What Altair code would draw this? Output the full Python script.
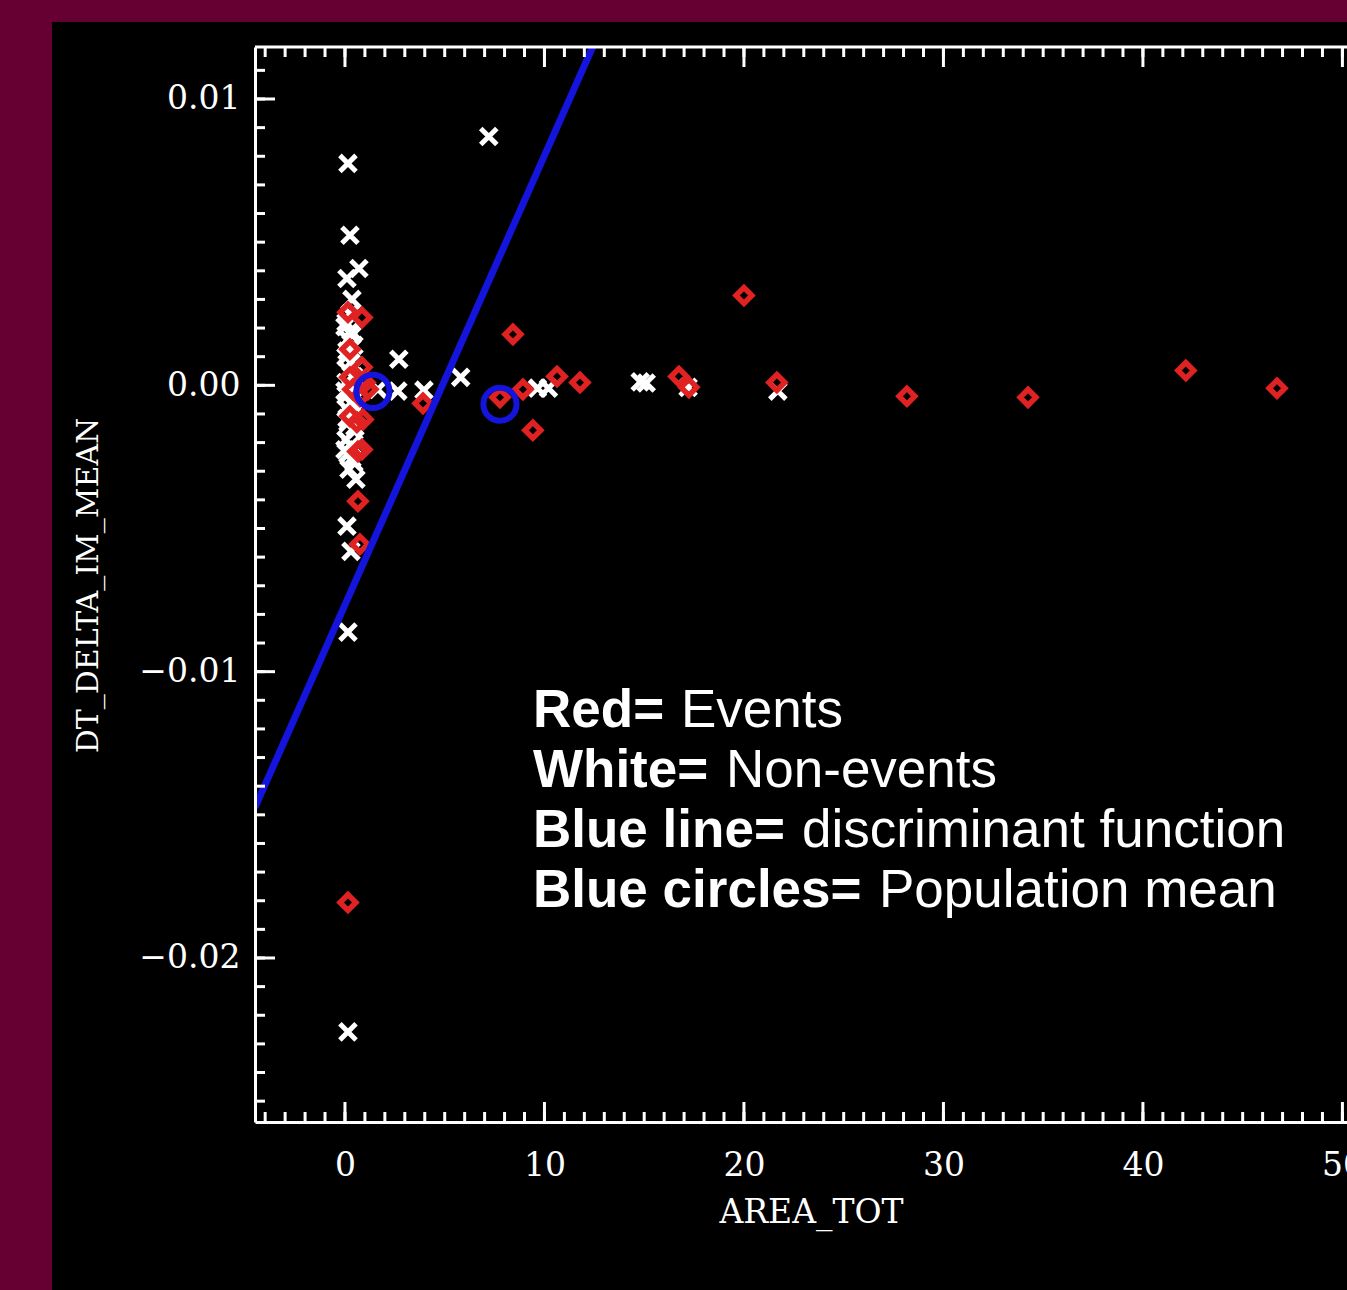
import altair as alt
import pandas as pd

# ---------------- data (x = AREA_TOT, y = DT_DELTA_IM_MEAN in units of 0.001) -------------
white_x = [7.21, 0.15, 0.25, 0.70, 0.10, 0.35, 2.70, 2.65, 3.96, 5.80, 9.65, 10.20,
           14.80, 15.10, 17.20, 21.70, 0.15, 0.15, 0.10, 0.30, 0.20, 0.55, 1.65,
           0.05, 0.30, 0.15, 0.45, 0.05, 0.30, 0.15, 0.45, 0.05, 0.30, 0.15, 0.45,
           0.05, 0.30, 0.15, 0.45, 0.05, 0.30, 0.15, 0.45, 0.25,
           0.00, 0.35, 0.10, 0.50, 0.00, 0.35, 0.10, 0.50, 0.00, 0.35]
white_y = [8.69, 7.75, 5.24, 4.08, 3.73, 3.00, 0.91, -0.20, -0.17, 0.28, -0.10, -0.10,
           0.12, 0.08, -0.07, -0.20, -8.62, -22.58, -4.92, -5.80, -2.93, -3.28, -0.14,
           2.20, 1.90, 1.60, 1.40, 1.00, 0.80, 0.50, 0.30, 0.10, -0.10, -0.30, -0.50,
           -0.80, -1.00, -1.30, -1.60, -1.90, -2.10, -2.40, -2.70, 2.50,
           2.05, 1.75, 1.20, 0.65, -0.20, -0.65, -1.15, -1.45, -2.25, -2.55]

red_x = [20.00, 8.42, 10.63, 11.78, 8.92, 9.42, 3.91, 16.74, 17.24, 21.65, 28.17,
         34.24, 42.15, 46.72, 0.15, 0.65, 0.65, 0.75, 7.77,
         0.15, 0.85, 0.25, 0.85, 0.25, 1.00, 0.40, 0.75, 0.25, 0.90, 0.60, 0.85, 1.15]
red_y = [3.14, 1.78, 0.31, 0.10, -0.14, -1.57, -0.63, 0.31, -0.07, 0.10, -0.38,
         -0.42, 0.52, -0.10, -18.06, -2.31, -4.05, -5.55, -0.42,
         2.55, 2.37, 1.26, 0.63, 0.28, 0.10, -0.14, -0.38, -1.08, -1.19, -1.29, -2.24, -0.14]

mean_x = [1.40, 7.77]
mean_y = [-0.21, -0.66]

line_x = [-4.51, 12.43]
line_y = [-14.74, 11.84]

x_ticks_minor = list(range(-4, 51))
x_ticks_major = [0, 10, 20, 30, 40, 50]
y_ticks_minor = [v / 1000 for v in range(-25, 12)]
y_ticks_major = [-0.02, -0.01, 0.0, 0.01]

legend_bold = ["Red=", "White=", "Blue line=", "Blue circles="]
legend_regular = ["Events", "Non-events", "discriminant function", "Population mean"]

# ---------------- frames ----------------
def pts(xs, ys):
    return pd.DataFrame({"x": xs, "y": [v / 1000 for v in ys]})

W, H = 1092, 1075
XDOM = [-4.51, 50.23]
YDOM = [-0.025728, 0.011816]
xs = alt.Scale(domain=XDOM, nice=False, zero=False)
ys = alt.Scale(domain=YDOM, nice=False, zero=False)

SERIF = "DejaVu Serif"
x_axis = alt.Axis(values=x_ticks_major, format="d", grid=False, ticks=False, tickSize=0,
                  domain=True, domainColor="white", domainWidth=3,
                  labelFont=SERIF, labelFontSize=33, labelColor="white",
                  labelPadding=43, labelBaseline="middle", labelFlush=False,
                  labelOverlap=False, title="AREA_TOT", titleFont=SERIF,
                  titleFontSize=33, titleFontWeight="normal", titleColor="white",
                  titleX=556, titleY=90, titleBaseline="middle", titleAlign="center",
                  zindex=1)
y_axis = alt.Axis(values=y_ticks_major, format=".2f", grid=False, ticks=False, tickSize=0,
                  domain=True, domainColor="white", domainWidth=3,
                  labelFont=SERIF, labelFontSize=33, labelColor="white",
                  labelPadding=15, labelFlush=False, labelOverlap=False,
                  title="DT_DELTA_IM_MEAN", titleFont=SERIF, titleFontSize=30,
                  titleFontWeight="normal", titleColor="white",
                  titleX=-167, titleY=538, titleAngle=270, titleBaseline="middle",
                  titleAlign="center", zindex=1)

one = pd.DataFrame({"a": [0]})
MAROON = "#660033"

# maroon border bands (canvas background is black)
band_left = alt.Chart(one).mark_rect(color=MAROON).encode(
    x=alt.value(-255), x2=alt.value(-203), y=alt.value(-47), y2=alt.value(1243))
band_top = alt.Chart(one).mark_rect(color=MAROON).encode(
    x=alt.value(-255), x2=alt.value(W), y=alt.value(-47), y2=alt.value(-25))

cross_path = "M-1,-1L1,1M-1,1L1,-1"
white = alt.Chart(pts(white_x, white_y)).mark_point(
    shape=cross_path, filled=False, stroke="white", strokeWidth=5, size=260, opacity=1
).encode(x=alt.X("x:Q", scale=xs, axis=x_axis), y=alt.Y("y:Q", scale=ys, axis=y_axis))

red = alt.Chart(pts(red_x, red_y)).mark_point(
    shape="diamond", filled=False, stroke="#e02222", strokeWidth=5.5, size=250, opacity=1
).encode(x=alt.X("x:Q", scale=xs, axis=x_axis), y=alt.Y("y:Q", scale=ys, axis=y_axis))

blue_line = alt.Chart(pts(line_x, line_y)).mark_line(
    color="#1414dc", strokeWidth=7, clip=True
).encode(x=alt.X("x:Q", scale=xs, axis=x_axis), y=alt.Y("y:Q", scale=ys, axis=y_axis))

means = alt.Chart(pts(mean_x, mean_y)).mark_point(
    shape="circle", filled=False, stroke="#1414dc", strokeWidth=6, size=1100, opacity=1
).encode(x=alt.X("x:Q", scale=xs, axis=x_axis), y=alt.Y("y:Q", scale=ys, axis=y_axis))

def xt(vals, y0, y1):
    return alt.Chart(pd.DataFrame({"x": vals})).mark_rule(color="white", strokeWidth=3).encode(
        x=alt.X("x:Q", scale=xs, axis=x_axis), y=alt.value(y0), y2=alt.value(y1))

def yt(vals, x0, x1):
    return alt.Chart(pd.DataFrame({"y": vals})).mark_rule(color="white", strokeWidth=3).encode(
        y=alt.Y("y:Q", scale=ys, axis=y_axis), x=alt.value(x0), x2=alt.value(x1))

ticks = [xt(x_ticks_minor, H, H - 10), xt(x_ticks_major, H, H - 20),
         xt(x_ticks_minor, 0, 10), xt(x_ticks_major, 0, 20),
         yt(y_ticks_minor, 0, 10), yt(y_ticks_major, 0, 20)]

top_frame = alt.Chart(one).mark_rule(color="white", strokeWidth=3).encode(
    x=alt.value(0), x2=alt.value(W), y=alt.value(0))

texts = []
reg_x = [426, 471, 547, 624]
for i, (b, r) in enumerate(zip(legend_bold, legend_regular)):
    df = pd.DataFrame({"b": [b], "r": [r]})
    texts.append(alt.Chart(df).mark_text(
        align="left", baseline="alphabetic", font="Liberation Sans", fontSize=53,
        fontWeight="bold", color="white").encode(
        text="b:N", x=alt.value(278), y=alt.value(680 + 60 * i)))
    texts.append(alt.Chart(df).mark_text(
        align="left", baseline="alphabetic", font="Liberation Sans", fontSize=53,
        fontWeight="normal", color="white").encode(
        text="r:N", x=alt.value(reg_x[i]), y=alt.value(680 + 60 * i)))

chart = alt.layer(white, red, blue_line, means, *ticks, top_frame, band_left, band_top,
                  *texts).properties(
    width=W, height=H,
    padding={"left": 255, "top": 47, "right": 0, "bottom": 168},
    autosize=alt.AutoSizeParams(type="none"),
    background="black",
).configure_view(stroke=None)

chart.save("out.html", embed_options={"renderer": "svg", "actions": False})
